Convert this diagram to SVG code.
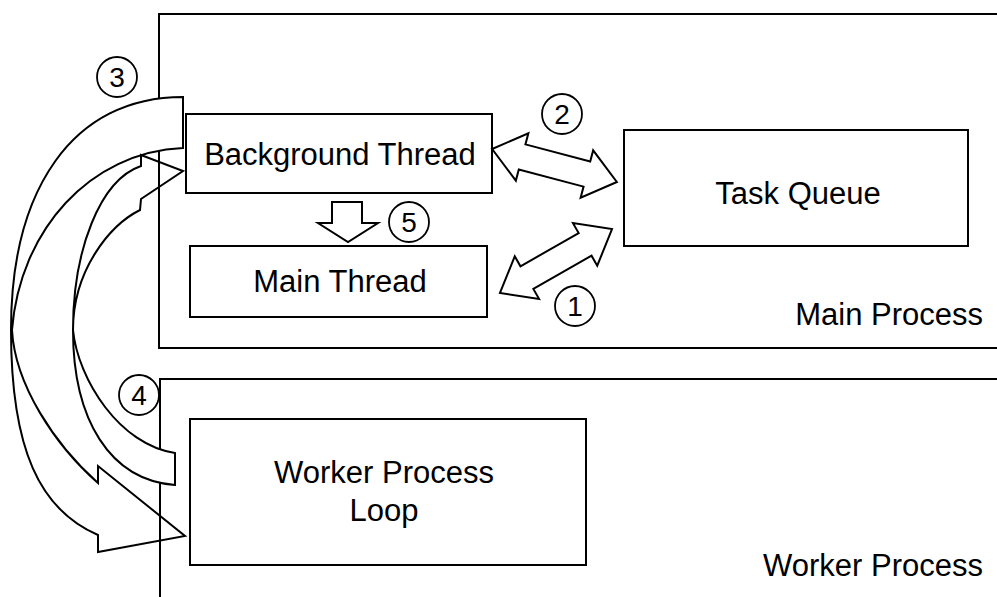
<svg xmlns="http://www.w3.org/2000/svg" width="997" height="597" viewBox="0 0 997 597">
<defs>
<style>
.ln{fill:none;stroke:#000;stroke-width:2}
.cl{fill:none;stroke:#000;stroke-width:1.8}
.bx{fill:#fff;stroke:#000;stroke-width:2}
.ar{fill:#fff;stroke:#000;stroke-width:2;stroke-linejoin:miter}
.t{font-family:"Liberation Sans",Arial,sans-serif;font-size:31px;fill:#000}
.n{font-family:"Liberation Sans",Arial,sans-serif;font-size:28px;fill:#000;text-anchor:middle}
.c{text-anchor:middle}
.e{text-anchor:end}
</style>
<polygon id="dbl" points="-64.5,0 -33.5,-24.5 -33.5,-13 33.5,-13 33.5,-24.5 64.5,0 33.5,24.5 33.5,13 -33.5,13 -33.5,24.5"/>
</defs>
<rect width="997" height="597" fill="#fff"/>
<g id="main-process">
<rect class="ln" x="159" y="14" width="900" height="334"/>
<text class="t e" x="983" y="325">Main Process</text>
</g>
<g id="worker-process">
<rect class="ln" x="160" y="379" width="900" height="300"/>
<text class="t e" x="983" y="576">Worker Process</text>
</g>
<g id="background-thread">
<rect class="bx" x="186" y="114" width="306" height="79"/>
<text class="t c" x="340" y="165">Background Thread</text>
</g>
<g id="main-thread">
<rect class="bx" x="190" y="246" width="297" height="71"/>
<text class="t c" x="340" y="292">Main Thread</text>
</g>
<g id="task-queue">
<rect class="bx" x="624" y="130" width="344" height="116"/>
<text class="t c" x="798" y="204">Task Queue</text>
</g>
<g id="worker-loop">
<rect class="bx" x="190" y="419" width="396" height="146"/>
<text class="t c" x="384" y="483">Worker Process</text>
<text class="t c" x="384" y="521">Loop</text>
</g>
<g id="connectors">
<path class="ar" d="M183,97 C72,97 11,190 11,330 C11,450 40,510 98,535 L98,552 L185,536 L98,466 L98,483 C55,445 15,385 12,330 C20,230 90,152 183,148 Z"/>
<path class="ar" d="M175,453 L175,485 C110,480 73,420 73,330 C73,250 100,180 141,166 L141,155 L183,171 L141,199 L140,210 C110,225 73,270 73,330 C78,380 120,445 175,453 Z"/>
<line class="ln" x1="159" y1="150" x2="159" y2="215"/>
<line class="ln" x1="160" y1="495" x2="160" y2="560"/>
<use href="#dbl" class="ar" transform="translate(554.5,165.5) rotate(14.8)"/>
<use href="#dbl" class="ar" transform="translate(556,261) rotate(-29.7)"/>
<polygon class="ar" points="332,202 362,202 362,223 378,223 348,242 318,223 332,223"/>
</g>
<g id="label-1"><circle class="cl" cx="575" cy="306" r="20"/><text class="n" x="575" y="316">1</text></g>
<g id="label-2"><circle class="cl" cx="562" cy="114" r="20"/><text class="n" x="562" y="124">2</text></g>
<g id="label-3"><circle class="cl" cx="117" cy="77" r="20"/><text class="n" x="117" y="87">3</text></g>
<g id="label-4"><circle class="cl" cx="139" cy="395" r="20"/><text class="n" x="139" y="405">4</text></g>
<g id="label-5"><circle class="cl" cx="409" cy="222" r="20"/><text class="n" x="409" y="232">5</text></g>
</svg>
